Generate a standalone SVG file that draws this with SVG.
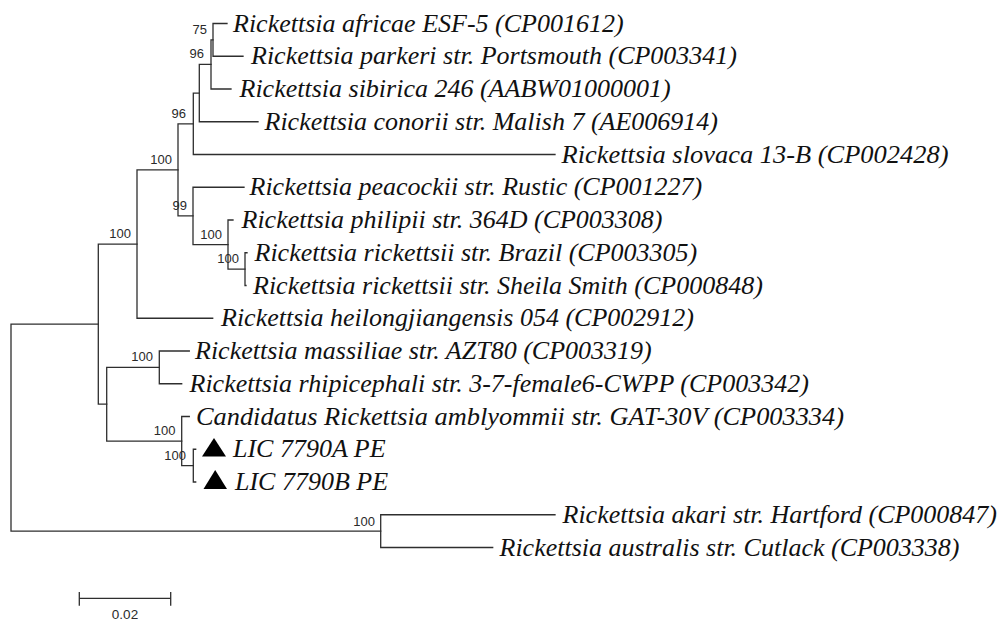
<svg xmlns="http://www.w3.org/2000/svg" width="1004" height="620" viewBox="0 0 1004 620">
<style>
.br{fill:none;stroke:#2e2e2e;stroke-width:1.3;stroke-linecap:square}
.lf{font-family:"Liberation Serif","Times New Roman",serif;font-style:italic;font-size:26px;fill:#111}
.bs{font-family:"Liberation Sans",Arial,sans-serif;font-size:13px;fill:#2a2a2a;text-anchor:end}
.tri{fill:#000}
</style>
<rect width="1004" height="620" fill="#fff"/>
<g id="connectors">
<path class="br" d="M11,324.2V531.1M11,324.2H98.3M11,531.1H380.7"/>
<path class="br" d="M98.3,244.1V404.2M98.3,244.1H137M98.3,404.2H106.7"/>
<path class="br" d="M137,169.9V318.25M137,169.9H178M137,318.25H212.7"/>
<path class="br" d="M178,123.8V215.9M178,123.8H193.3M178,215.9H193"/>
<path class="br" d="M193.3,93.1V154.5M193.3,93.1H199.3M193.3,154.5H555"/>
<path class="br" d="M199.3,64.4V121.75M199.3,64.4H211M199.3,121.75H258"/>
<path class="br" d="M211,39.9V89M211,39.9H213M211,89H231"/>
<path class="br" d="M213,23.5V56.25M213,23.5H227M213,56.25H243"/>
<path class="br" d="M193,187.25V244.6M193,187.25H244M193,244.6H228"/>
<path class="br" d="M228,220V269.1M228,220H233M228,269.1H245"/>
<path class="br" d="M245,252.75V285.5M245,252.75H247M245,285.5H246"/>
<path class="br" d="M106.7,367.4V441.1M106.7,367.4H159.3M106.7,441.1H181.7"/>
<path class="br" d="M159.3,351V383.75M159.3,351H189.3M159.3,383.75H181.7"/>
<path class="br" d="M181.7,416.5V465.6M181.7,416.5H189.3M181.7,465.6H193.3"/>
<path class="br" d="M193.3,449.25V482M193.3,449.25H195.7M193.3,482H195.7"/>
<path class="br" d="M380.7,514.75V547.5M380.7,514.75H555M380.7,547.5H492.7"/>
</g>
<g id="n-A"><text class="bs" x="207" y="33.5">75</text></g>
<g id="n-B"><text class="bs" x="204" y="58">96</text></g>
<g id="n-D"><text class="bs" x="186" y="117.5">96</text></g>
<g id="n-E"><text class="bs" x="172" y="163.5">100</text></g>
<g id="n-F"><text class="bs" x="187" y="210">99</text></g>
<g id="n-G"><text class="bs" x="222" y="238.5">100</text></g>
<g id="n-H"><text class="bs" x="239" y="262.5">100</text></g>
<g id="n-I"><text class="bs" x="131" y="238">100</text></g>
<g id="n-L"><text class="bs" x="153" y="361">100</text></g>
<g id="n-M"><text class="bs" x="175.5" y="435">100</text></g>
<g id="n-N"><text class="bs" x="186" y="459.5">100</text></g>
<g id="n-O"><text class="bs" x="375" y="525.5">100</text></g>
<g id="leaf-africae"><text class="lf" x="233" y="31.5">Rickettsia africae ESF-5 (CP001612)</text></g>
<g id="leaf-parkeri"><text class="lf" x="251" y="64.25">Rickettsia parkeri str. Portsmouth (CP003341)</text></g>
<g id="leaf-sibirica"><text class="lf" x="239.5" y="97">Rickettsia sibirica 246 (AABW01000001)</text></g>
<g id="leaf-conorii"><text class="lf" x="264.5" y="129.75">Rickettsia conorii str. Malish 7 (AE006914)</text></g>
<g id="leaf-slovaca"><text class="lf" x="561.5" y="162.5" textLength="387" lengthAdjust="spacingAndGlyphs">Rickettsia slovaca 13-B (CP002428)</text></g>
<g id="leaf-peacockii"><text class="lf" x="249.5" y="195.25">Rickettsia peacockii str. Rustic (CP001227)</text></g>
<g id="leaf-philipii"><text class="lf" x="241.5" y="228">Rickettsia philipii str. 364D (CP003308)</text></g>
<g id="leaf-rickettsii-brazil"><text class="lf" x="254.5" y="260.75">Rickettsia rickettsii str. Brazil (CP003305)</text></g>
<g id="leaf-rickettsii-sheila"><text class="lf" x="253" y="293.5">Rickettsia rickettsii str. Sheila Smith (CP000848)</text></g>
<g id="leaf-heilongjiangensis"><text class="lf" x="221" y="326.25">Rickettsia heilongjiangensis 054 (CP002912)</text></g>
<g id="leaf-massiliae"><text class="lf" x="195" y="359">Rickettsia massiliae str. AZT80 (CP003319)</text></g>
<g id="leaf-rhipicephali"><text class="lf" x="189.5" y="391.75">Rickettsia rhipicephali str. 3-7-female6-CWPP (CP003342)</text></g>
<g id="leaf-amblyommii"><text class="lf" x="196" y="424.5" textLength="648" lengthAdjust="spacingAndGlyphs">Candidatus Rickettsia amblyommii str. GAT-30V (CP003334)</text></g>
<g id="leaf-LIC-7790A"><polygon class="tri" points="202,456.5 226,456.5 214,438"/><text class="lf" x="233" y="457">LIC 7790A PE</text></g>
<g id="leaf-LIC-7790B"><polygon class="tri" points="203.5,489 227,489 215.2,470"/><text class="lf" x="235" y="489.5">LIC 7790B PE</text></g>
<g id="leaf-akari"><text class="lf" x="562.5" y="522.75">Rickettsia akari str. Hartford (CP000847)</text></g>
<g id="leaf-australis"><text class="lf" x="499.5" y="555.5">Rickettsia australis str. Cutlack (CP003338)</text></g>
<g id="scale-bar">
<path class="br" d="M79.3,598.3H170.7M79.3,592.7V605M170.7,592.7V605"/>
<text class="bs" x="125" y="619" style="text-anchor:middle;font-size:13.5px">0.02</text>
</g>
</svg>
